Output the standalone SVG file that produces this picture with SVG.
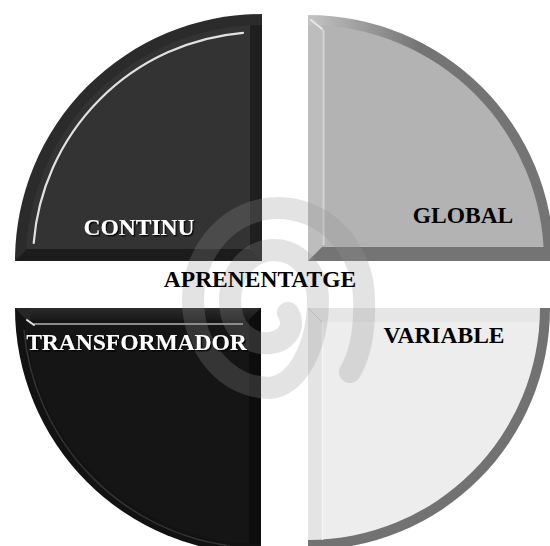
<svg xmlns="http://www.w3.org/2000/svg" width="550" height="546" viewBox="0 0 550 546">
  <style>
    .lbl { font-family: "Liberation Serif", "Times New Roman", serif; font-weight: bold; font-size: 23.5px; text-anchor: middle; }
    .dark { fill: #000; }
    .light { fill: #fff; filter: url(#lift); }
    .spiral { fill: none; stroke: #919191; stroke-opacity: 0.26; stroke-width: 22; stroke-linecap: round; stroke-linejoin: round; }
  </style>
  <defs>
    <filter id="lift" x="-5%" y="-25%" width="115%" height="160%">
      <feDropShadow dx="1.4" dy="1.4" stdDeviation="0.7" flood-color="#000" flood-opacity="0.9"/>
    </filter>
    <clipPath id="clipTL"><circle cx="262" cy="261" r="236"/></clipPath>
    <clipPath id="clipTR"><circle cx="308" cy="261" r="236"/></clipPath>
    <clipPath id="clipBL"><circle cx="261" cy="308" r="236"/></clipPath>
    <clipPath id="clipBR"><circle cx="308" cy="308" r="232"/></clipPath>
    <linearGradient id="rimTR" x1="308" y1="0" x2="420" y2="0" gradientUnits="userSpaceOnUse">
      <stop offset="0" stop-color="#c4c4c4"/>
      <stop offset="1" stop-color="#747474"/>
    </linearGradient>
    <linearGradient id="topBL" x1="0" y1="308" x2="0" y2="320" gradientUnits="userSpaceOnUse">
      <stop offset="0" stop-color="#2c2c2c"/>
      <stop offset="1" stop-color="#191919"/>
    </linearGradient>
  </defs>

  <rect width="550" height="546" fill="#fff"/>

  <!-- top-left quadrant -->
  <g id="continu">
    <path d="M262,261 L15,261 A247,247 0 0 1 262,14 Z" fill="#2b2b2b"/>
    <g clip-path="url(#clipTL)">
      <rect x="15" y="14" width="236" height="236" fill="#333"/>
      <polygon points="250,0 262,0 262,261 250,249" fill="#1f1f1f"/>
      <polygon points="0,249 250,249 262,261 0,261" fill="#1c1c1c"/>
    </g>
    <polygon points="15,261 27,249 30,249 30,261" fill="#1c1c1c"/>
    <path d="M243,32.8 A229,229 0 0 0 33.7,243" fill="none" stroke="#e2e2e2" stroke-width="2.2" stroke-linecap="round"/>
  </g>

  <!-- top-right quadrant -->
  <g id="global">
    <path d="M308,261 L308,15 A246,246 0 0 1 554,261 Z" fill="url(#rimTR)"/>
    <g clip-path="url(#clipTR)">
      <rect x="322" y="0" width="240" height="247" fill="#b3b3b3"/>
      <polygon points="308,0 322,0 322,247 308,261" fill="#bdbdbd"/>
      <polygon points="308,261 322,247 560,247 560,261" fill="#747474"/>
    </g>
    <polygon points="540,247 546,247 554,261 530,261" fill="#747474"/>
    <line x1="323.5" y1="30" x2="323.5" y2="245" stroke="#d6d6d6" stroke-width="2"/>
    <line x1="311" y1="20" x2="322" y2="29" stroke="#e6e6e6" stroke-width="2" stroke-linecap="round"/>
  </g>

  <!-- bottom-left quadrant -->
  <g id="transformador">
    <path d="M261,308 L15,308 A246,246 0 0 0 261,554 Z" fill="#121212"/>
    <g clip-path="url(#clipBL)">
      <rect x="0" y="320" width="249" height="240" fill="#151515"/>
      <polygon points="0,308 261,308 249,320 0,320" fill="url(#topBL)"/>
      <polygon points="249,320 261,308 261,560 249,560" fill="#0d0d0d"/>
    </g>
    <polygon points="15,308 30,308 30,320 26,320" fill="#262626"/>
    <path d="M24,330 A239,239 0 0 0 230,546" fill="none" stroke="#333" stroke-width="1.5"/>
    <line x1="34" y1="324" x2="243" y2="324" stroke="#8a8a8a" stroke-width="2"/>
    <line x1="27" y1="320" x2="34" y2="325" stroke="#e6e6e6" stroke-width="2" stroke-linecap="round"/>
  </g>

  <!-- bottom-right quadrant -->
  <g id="variable">
    <path d="M308,308 L550,308 A242,242 0 0 1 308,550 Z" fill="#727272"/>
    <g clip-path="url(#clipBR)">
      <rect x="322" y="322" width="240" height="240" fill="#ededed"/>
      <polygon points="308,308 560,308 560,322 322,322" fill="#e6e6e6"/>
      <polygon points="308,308 322,322 322,560 308,560" fill="#e4e4e4"/>
    </g>
    <line x1="322.5" y1="323" x2="322.5" y2="540" stroke="#f6f6f6" stroke-width="1.5"/>
  </g>

  <!-- spiral watermark behind the labels -->
  <g id="watermark">
    <path class="spiral" d="M350,372 C360,355 365,330 364,300 A86,92 0 0 0 278,208 A85,92 0 0 0 193,300 A77,88 0 0 0 270,388 C298,385 318,345 318,300 A44,50 0 0 0 230,300 C230,330 250,345 270,343 C288,341 296,325 288,313"/>
  </g>

  <!-- labels -->
  <g id="labels">
    <text class="lbl light" x="139" y="235">CONTINU</text>
    <text class="lbl dark" x="463" y="223">GLOBAL</text>
    <text class="lbl dark" x="260" y="287">APRENENTATGE</text>
    <text class="lbl light" x="136.5" y="350">TRANSFORMADOR</text>
    <text class="lbl dark" x="444" y="343">VARIABLE</text>
  </g>
</svg>
